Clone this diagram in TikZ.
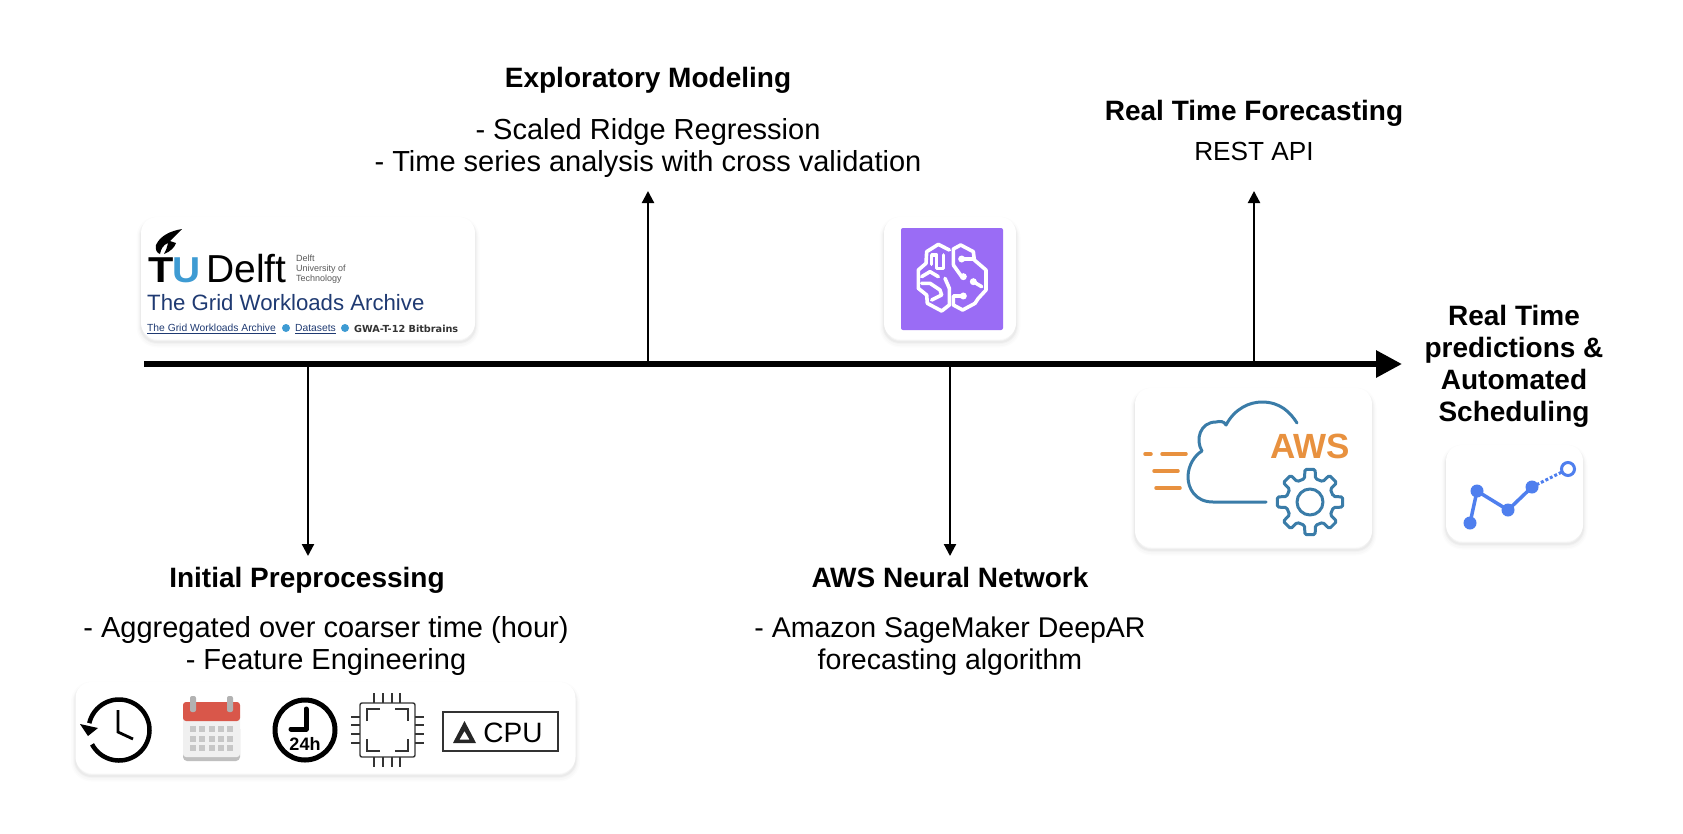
\documentclass[tikz,border=0pt]{standalone}
\usepackage{fontspec}
\setmainfont{Liberation Sans}
\newfontfamily\dejafont{DejaVu Sans}
\usetikzlibrary{arrows.meta}
\definecolor{delftblue}{HTML}{3E9BD3}
\definecolor{gridblue}{HTML}{1F3A72}
\definecolor{sagepurple}{HTML}{9A6CF5}
\definecolor{awsblue}{HTML}{3A7CA8}
\definecolor{awsorange}{HTML}{E8913F}
\definecolor{chartblue}{HTML}{4F7FEE}
\definecolor{calred}{HTML}{D9574A}
\begin{document}
\begin{tikzpicture}[x=1pt,y=-1pt]
\tikzset{card/.style={fill=white, rounded corners=16pt, inner sep=0pt,
  preaction={draw=black, line width=9pt, opacity=.01, transform canvas={yshift=-4pt}},
  preaction={draw=black, line width=6pt, opacity=.014, transform canvas={yshift=-4pt}},
  preaction={draw=black, line width=4pt, opacity=.02, transform canvas={yshift=-3pt}},
  preaction={draw=black, line width=2pt, opacity=.03, transform canvas={yshift=-3pt}}},
  titre/.style={font=\fontsize{28}{32}\selectfont\bfseries, align=center, inner sep=0pt},
  corps/.style={font=\fontsize{29}{32}\selectfont, align=center, inner sep=0pt},
  fleche/.style={line width=2.2pt, -{Triangle[length=12pt,width=12pt]}},
  axe/.style={line width=6pt, -{Triangle[length=26pt,width=26pt]}},
  trait/.style={line width=3pt, line cap=round, line join=round},
  puce/.style={fill=delftblue, circle, inner sep=0pt, minimum size=8pt},
  puce2/.style={line width=1.4pt, black!80}}
\useasboundingbox (0,0) rectangle (1683,833);
\fill[white] (0,0) rectangle (1683,833);
\node[card, minimum width=334pt, minimum height=122pt] (C1) at (308,278) {};
\node[card, minimum width=500pt, minimum height=91pt] (C2) at (325.5,727.5) {};
\node[card, minimum width=132pt, minimum height=122pt] (C3) at (950,278) {};
\node[card, minimum width=237pt, minimum height=159pt] (C4) at (1253.5,467.5) {};
\node[card, minimum width=137pt, minimum height=96pt] (C5) at (1514.5,493) {};
\coordinate (A0) at (144,364);
\coordinate (A1) at (308,364);
\coordinate (A2) at (648,364);
\coordinate (A3) at (950,364);
\coordinate (A4) at (1254,364);
\coordinate (A5) at (1402,364);
\coordinate (B1) at (308,556);
\coordinate (B2) at (648,191);
\coordinate (B3) at (950,556);
\coordinate (B4) at (1254,191);
\draw[fleche] (A1) -- (B1);
\draw[fleche] (A2) -- (B2);
\draw[fleche] (A3) -- (B3);
\draw[fleche] (A4) -- (B4);
\draw[axe] (A0) -- (A5);
\node[titre, anchor=base] (T1) at (307,587) {Initial Preprocessing};
\node[corps] (D1) at (326,646) {- Aggregated over coarser time (hour)\\- Feature Engineering};
\node[titre, anchor=base] (T2) at (648,87) {Exploratory Modeling};
\node[corps] (D2) at (648,148) {- Scaled Ridge Regression\\- Time series analysis with cross validation};
\node[titre, anchor=base] (T3) at (950,587) {AWS Neural Network};
\node[corps, font=\fontsize{28.5}{32}\selectfont] (D3) at (950,646) {- Amazon SageMaker DeepAR\\forecasting algorithm};
\node[titre, anchor=base] (T4) at (1254,120) {Real Time Forecasting};
\node[corps, anchor=base, font=\fontsize{26.2}{32}\selectfont] (D4) at (1254,160) {REST API};
\node[titre] (T5) at (1514,366) {Real Time\\predictions \&\\Automated\\Scheduling};
\fill (182,229) .. controls (170,231) and (160,236) .. (156,245)
  .. controls (155,250) and (157,253) .. (160,254)
  .. controls (161,249) and (163,245) .. (168,243)
  .. controls (167,248) and (166,250) .. (164,254)
  .. controls (170,252) and (175,247) .. (176,243)
  -- (170,241) .. controls (173,238) and (178,233) .. (182,229) -- cycle;
\node[inner sep=0pt, anchor=base west, xscale=1.15, transform shape, font=\fontsize{36}{36}\selectfont\bfseries] (N1) at (148,282) {T};
\node[inner sep=0pt, anchor=base west, xscale=1.08, transform shape, font=\fontsize{36}{36}\selectfont\bfseries, text=delftblue] (N2) at (172,282) {U};
\node[inner sep=0pt, anchor=base west, font=\fontsize{39}{39}\selectfont] (N3) at (206,282) {Delft};
\node[inner sep=0pt, anchor=west, align=left, text=black!65, font=\fontsize{9}{10}\selectfont] (N4) at (296,269) {Delft\\University of\\Technology};
\node[inner sep=0pt, anchor=west, text=gridblue, font=\fontsize{22.2}{24}\selectfont] (N5) at (147,303) {The Grid Workloads Archive};
\node[inner sep=0pt, anchor=west, text=gridblue, font=\fontsize{10.3}{11}\selectfont] (N6) at (147,329) {\underline{The Grid Workloads Archive}};
\node[puce] (P1) at (286,328) {};
\node[inner sep=0pt, anchor=west, text=gridblue, font=\fontsize{10.3}{11}\selectfont] (N7) at (295,329) {\underline{Datasets}};
\node[puce] (P2) at (345,328) {};
\node[inner sep=0pt, anchor=west, text=black!80, font=\fontsize{9.7}{11}\selectfont\dejafont\bfseries] (N8) at (354,329) {GWA-T-12 Bitbrains};
\draw[line width=4.5pt] ([shift={(152:30.5)}]119,730) arc (152:-167:30.5);
\fill (80,724) -- (98,728) -- (88,736) -- cycle;
\draw[line width=2.8pt] (118,710) -- (118,732) -- (133,739);
\fill[black!25, rounded corners=4pt] (183,725) rectangle (240,761);
\fill[black!6, rounded corners=3pt] (183,712) rectangle (240,757);
\fill[calred, rounded corners=3pt] (183,702) rectangle (240,721);
\foreach \x in {193,230} \fill[black!30, rounded corners=2pt] (\x-3,696) rectangle (\x+3,712);
\foreach \x in {193,202,212,221,230} \foreach \y in {729,739,748} \fill[black!22] (\x-3,\y-3) rectangle (\x+3,\y+3);
\draw[line width=5pt] (305,730) circle (30pt);
\draw[line width=5pt, line cap=round, line join=round] (306,709) -- (306,729) -- (291,729);
\node[inner sep=0pt, font=\fontsize{18}{18}\selectfont\bfseries] (N9) at (305,744) {24h};
\draw[puce2, rounded corners=2pt] (360,703) rectangle (415,757);
\foreach \x in {374,383,392,400} {
  \draw[puce2] (\x,693) -- (\x,703);
  \draw[puce2] (\x,757) -- (\x,767);
}
\foreach \y in {717,725,734,743} {
  \draw[puce2] (351,\y) -- (360,\y);
  \draw[puce2] (415,\y) -- (424,\y);
}
\draw[puce2] (367,721) -- (367,709) -- (380,709);
\draw[puce2] (395,709) -- (408,709) -- (408,721);
\draw[puce2] (367,739) -- (367,751) -- (380,751);
\draw[puce2] (395,751) -- (408,751) -- (408,739);
\draw[puce2] (443,712) rectangle (558,751);
\fill[black!85, even odd rule] (464.5,721) -- (476,743) -- (453,743) -- cycle (464.5,731) -- (469.5,739.5) -- (459.5,739.5) -- cycle;
\node[inner sep=0pt, anchor=center, font=\fontsize{28}{28}\selectfont] (N10) at (513,733) {CPU};
\fill[sagepurple, rounded corners=2pt] (901,228) rectangle (1003,330);
\begin{scope}[shift={(910,235)},x=.3333pt,y=-.3333pt,white,line width=3.6pt,line join=round,line cap=round]
\draw (130,90) -- (130,42) -- (152,30) -- (190,50) -- (193,75) -- (228,105) -- (228,165) -- (205,190) -- (195,205) -- (158,225) -- (130,210) -- (130,183) -- (160,183);
\draw (130,90) -- (155,125);
\draw (155,72) -- (190,72);
\draw (190,140) -- (215,155);
\draw (118,45) -- (85,28) -- (50,50) -- (48,85) -- (25,105) -- (25,160) -- (50,180) -- (52,205) -- (95,228) -- (118,210) -- (118,160) -- (105,130);
\draw (65,88) -- (65,60) -- (80,60) -- (80,100) -- (100,100) -- (100,60);
\draw (35,125) -- (60,110) -- (85,125);
\draw (35,145) -- (60,145) -- (90,165) -- (95,180) -- (65,195);
\foreach \x/\y in {160/125,155/72,190/140,160/183} \fill (\x,\y) circle (3.5pt);
\end{scope}
\draw[awsblue, trait] (1266,502) -- (1213,502) .. controls (1195,502) and (1188,488) .. (1188,477)
  .. controls (1188,465) and (1195,455) .. (1202,451)
  .. controls (1195,440) and (1200,422) .. (1216,422)
  .. controls (1220,421) and (1224,421) .. (1226,425)
  .. controls (1235,408) and (1250,402) .. (1262,402)
  .. controls (1280,402) and (1290,412) .. (1297,423);
\node[inner sep=0pt, text=awsorange, font=\fontsize{35}{35}\selectfont\bfseries] (N11) at (1310,446) {AWS};
\draw[awsorange, trait, line width=3.5pt] (1145,454) -- (1151,454);
\draw[awsorange, trait, line width=3.5pt] (1162,454) -- (1186,454);
\draw[awsorange, trait, line width=3.5pt] (1154,471) -- (1178,471);
\draw[awsorange, trait, line width=3.5pt] (1156,488) -- (1180,488);
\draw[awsblue, trait] (1310,502) circle (13pt);
\draw[awsblue, trait, rounded corners=1.5pt] ([shift={(-13:24)}]1310,502)
  \foreach \a in {0,45,...,315} {
    -- ([shift={(\a-13:24)}]1310,502) -- ([shift={(\a-9:33)}]1310,502) -- ([shift={(\a+9:33)}]1310,502) -- ([shift={(\a+13:24)}]1310,502)
  } -- cycle;
\coordinate (G1) at (1470,523);
\coordinate (G2) at (1477,491);
\coordinate (G3) at (1508,510);
\coordinate (G4) at (1532,487);
\coordinate (G5) at (1568,469);
\draw[chartblue, line width=3.5pt] (G1) -- (G2) -- (G3) -- (G4);
\draw[chartblue, line width=3pt, dotted] (G4) -- (G5);
\foreach \p in {G1,G2,G3,G4} \fill[chartblue] (\p) circle (6.5pt);
\draw[chartblue, line width=3pt, fill=white] (G5) circle (6.5pt);
\end{tikzpicture}
\end{document}
